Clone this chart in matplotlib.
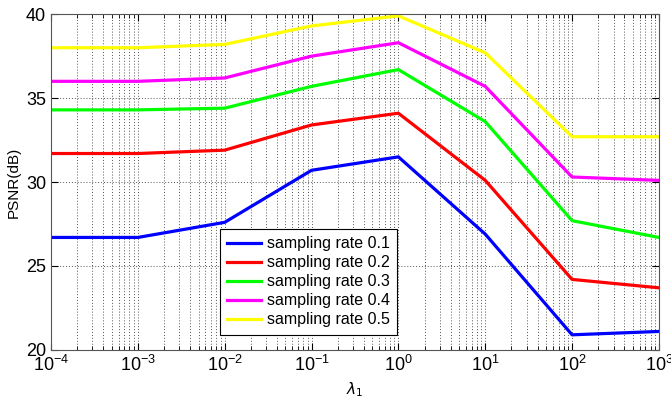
import matplotlib
matplotlib.use("Agg")
import matplotlib.pyplot as plt
from matplotlib.ticker import LogLocator, NullFormatter

# lambda_1 values and PSNR per sampling rate
lam = [1e-4, 1e-3, 1e-2, 1e-1, 1e0, 1e1, 1e2, 1e3]
psnr_01 = [26.7, 26.7, 27.6, 30.7, 31.5, 26.9, 20.9, 21.1]
psnr_02 = [31.7, 31.7, 31.9, 33.4, 34.1, 30.1, 24.2, 23.7]
psnr_03 = [34.3, 34.3, 34.4, 35.7, 36.7, 33.6, 27.7, 26.7]
psnr_04 = [36.0, 36.0, 36.2, 37.5, 38.3, 35.7, 30.3, 30.1]
psnr_05 = [38.0, 38.0, 38.2, 39.3, 39.9, 37.7, 32.7, 32.7]
labels = ['sampling rate 0.1', 'sampling rate 0.2', 'sampling rate 0.3',
          'sampling rate 0.4', 'sampling rate 0.5']
colors = ['#0000ff', '#ff0000', '#00ff00', '#ff00ff', '#ffff00']

plt.rcParams['font.family'] = ['Liberation Sans', 'DejaVu Sans']
plt.rcParams['mathtext.fontset'] = 'dejavusans'

fig = plt.figure(figsize=(6.71, 4.05), dpi=100)
ax = fig.add_axes([0.076, 0.136, 0.906, 0.829])

for ys, c, lab in zip([psnr_01, psnr_02, psnr_03, psnr_04, psnr_05], colors, labels):
    ax.plot(lam, ys, color=c, lw=2.3, label=lab)

ax.set_xscale('log')
ax.set_xlim(1e-4, 1e3)
ax.set_ylim(20, 40)
ax.set_yticks([20, 25, 30, 35, 40])
ax.xaxis.set_major_locator(LogLocator(base=10, numticks=20))
ax.xaxis.set_minor_locator(LogLocator(base=10, subs=range(2, 10), numticks=100))
ax.xaxis.set_minor_formatter(NullFormatter())

ax.grid(True, which='major', axis='both', ls=(0, (1, 2)), color='#555555', lw=0.7)
ax.grid(True, which='minor', axis='x', ls=(0, (1, 2)), color='#555555', lw=0.7)
ax.tick_params(which='both', direction='in', top=True, right=True, labelsize=13)
ax.tick_params(which='major', length=5)
ax.tick_params(which='minor', length=3)
for sp in ax.spines.values():
    sp.set_color('#555555')

ax.set_ylabel('PSNR(dB)', fontsize=11)
ax.set_xlabel(r'$\lambda_1$', fontsize=11)

leg = ax.legend(loc='lower left', bbox_to_anchor=(0.265, 0.022), fontsize=11.5,
                frameon=True, fancybox=False, handlelength=2.1,
                borderpad=0.45, labelspacing=0.25, handletextpad=0.4)
leg.get_frame().set_edgecolor('black')
leg.get_frame().set_linewidth(0.8)
leg.get_frame().set_alpha(1)

fig.savefig('out.png', dpi=100)
